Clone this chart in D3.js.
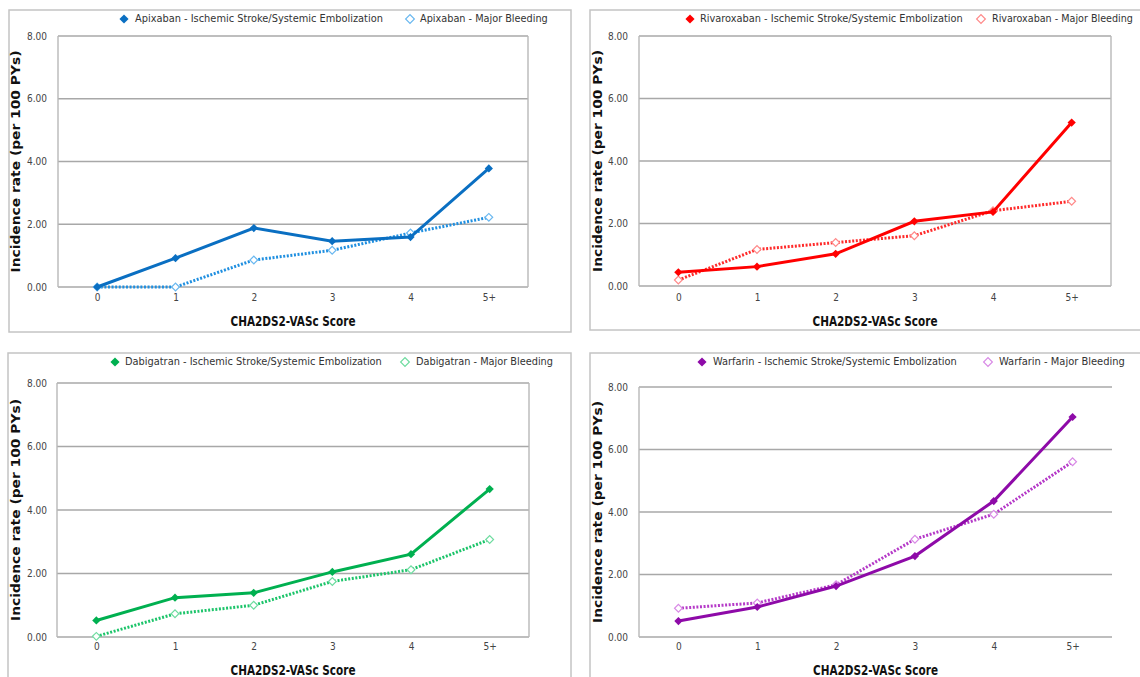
<!DOCTYPE html>
<html><head><meta charset="utf-8">
<script src="https://cdn.jsdelivr.net/npm/d3@7"></script>
<style>
html,body{margin:0;padding:0;background:#fff;}
svg{display:block;}
</style></head>
<body>
<svg id="chart" width="1140" height="677"></svg>
<script>
// ---- data ----
const scores = ["0", "1", "2", "3", "4", "5+"];
const yTicks = [0, 2, 4, 6, 8];
const drugs = ["Apixaban", "Rivaroxaban", "Dabigatran", "Warfarin"];
const apixabanStroke = [0.00, 0.92, 1.88, 1.46, 1.59, 3.78];
const apixabanBleed = [0.00, 0.00, 0.86, 1.17, 1.72, 2.22];
const rivaroxabanStroke = [0.44, 0.62, 1.03, 2.07, 2.37, 5.23];
const rivaroxabanBleed = [0.19, 1.17, 1.39, 1.61, 2.41, 2.71];
const dabigatranStroke = [0.52, 1.24, 1.39, 2.05, 2.61, 4.66];
const dabigatranBleed = [0.02, 0.73, 1.00, 1.75, 2.12, 3.07];
const warfarinStroke = [0.51, 0.96, 1.63, 2.59, 4.35, 7.04];
const warfarinBleed = [0.92, 1.09, 1.67, 3.13, 3.93, 5.61];
const strokeLabel = "Ischemic Stroke/Systemic Embolization";
const bleedLabel = "Major Bleeding";
const yTitle = "Incidence rate (per 100 PYs)";
const xTitle = "CHA2DS2-VASc Score";

// ---- layout/style (not data) ----
const panels = [
  {drug:"Apixaban", s:apixabanStroke, b:apixabanBleed, c:"#0a6fc2", cb:"#1f8fe0", cm:"#6ab8f0",
   box:[9,10,562,322], plot:[58,528,36,287], leg:{y:19,m1:124,t1:[135,383],m2:410,t2:[420,548]},
   yt:16, tr:47, xl:299, xt:322, rightBorder:true},
  {drug:"Rivaroxaban", s:rivaroxabanStroke, b:rivaroxabanBleed, c:"#ff0000", cb:"#ff2a2a", cm:"#ff8a8a",
   box:[590,10,570,320], plot:[639,1111,36,286], leg:{y:19,m1:690,t1:[700,963],m2:981,t2:[992,1133]},
   yt:598, tr:628, xl:299, xt:322, rightBorder:true},
  {drug:"Dabigatran", s:dabigatranStroke, b:dabigatranBleed, c:"#00b050", cb:"#1cc46a", cm:"#6fdca0",
   box:[8,353,563,340], plot:[57,529,383,637], leg:{y:362,m1:115,t1:[125,382],m2:405,t2:[416,553]},
   yt:16, tr:47, xl:648, xt:671, rightBorder:true},
  {drug:"Warfarin", s:warfarinStroke, b:warfarinBleed, c:"#8e0aa8", cb:"#b53ac8", cm:"#d98ae6",
   box:[590,353,570,340], plot:[639,1112,387,637], leg:{y:362,m1:702,t1:[713,957],m2:988,t2:[999,1125]},
   yt:598, tr:628, xl:648, xt:671, rightBorder:false}
];

const svg = d3.select("#chart");
const narrow = "'Liberation Sans Narrow','DejaVu Sans Condensed','Arial Narrow',sans-serif";
const boldFont = "'DejaVu Sans','Verdana',sans-serif";
const sq = d3.symbol().type(d3.symbolSquare);
const mk = (x0, y0) => `translate(${x0},${y0}) rotate(45)`;

// fit a text to a target width by scaling its font size
function fitText(sel, base, target) {
  sel.attr("font-size", base);
  const w = sel.node().getComputedTextLength();
  if (w > 0) sel.attr("font-size", base * target / w);
  return sel;
}

panels.forEach(p => {
  const g = svg.append("g");
  const [bx,by,bw,bh] = p.box;
  g.append("rect").attr("x",bx).attr("y",by).attr("width",bw).attr("height",bh)
    .attr("fill","#fff").attr("stroke","#c4c4c4").attr("stroke-width",1.5);

  const [l,r,t,b] = p.plot;
  const x = d3.scalePoint().domain(scores).range([l,r]).padding(0.5);
  const y = d3.scaleLinear().domain([0,8]).range([b,t]);

  // gridlines
  g.append("g").selectAll("line").data(yTicks).join("line")
    .attr("x1",l).attr("x2",r).attr("y1",d=>y(d)).attr("y2",d=>y(d))
    .attr("stroke","#a8a8a8").attr("stroke-width",1.6);
  g.append("line").attr("x1",l).attr("x2",l).attr("y1",t).attr("y2",b)
    .attr("stroke","#b8b8b8").attr("stroke-width",1.4);
  if (p.rightBorder) g.append("line").attr("x1",r).attr("x2",r).attr("y1",t).attr("y2",b)
    .attr("stroke","#b8b8b8").attr("stroke-width",1.4);

  // y axis labels
  const yAxis = d3.axisLeft(y).tickValues(yTicks).tickFormat(d3.format(".2f")).tickSize(0).tickPadding(0);
  const ya = g.append("g").attr("transform",`translate(${p.tr},0)`).call(yAxis);
  ya.select(".domain").remove();
  ya.selectAll("text").attr("font-family",narrow).attr("font-size",10).attr("fill","#444");

  // x axis labels
  const xAxis = d3.axisBottom(x).tickSize(0).tickPadding(0);
  const xa = g.append("g").attr("transform",`translate(0,${p.xl-5})`).call(xAxis);
  xa.select(".domain").remove();
  xa.selectAll("text").attr("font-family",narrow).attr("font-size",10).attr("fill","#444");

  // titles
  g.append("text").attr("transform",`translate(${p.yt},${(t+b)/2}) rotate(-90)`)
    .attr("text-anchor","middle").attr("dominant-baseline","middle")
    .attr("font-family",boldFont).attr("font-weight","bold").attr("font-size",13)
    .attr("textLength",222).attr("lengthAdjust","spacingAndGlyphs").attr("fill","#111")
    .text(yTitle);
  g.append("text").attr("x",(l+r)/2).attr("y",p.xt)
    .attr("text-anchor","middle").attr("dominant-baseline","middle")
    .attr("font-family",boldFont).attr("font-weight","bold").attr("font-size",14)
    .attr("textLength",125).attr("lengthAdjust","spacingAndGlyphs").attr("fill","#111")
    .text(xTitle);

  const line = d3.line().x((d,i)=>x(scores[i])).y(d=>y(d));
  // bleeding (dotted)
  g.append("path").datum(p.b).attr("d",line).attr("fill","none")
    .attr("stroke",p.cb).attr("stroke-width",3).attr("stroke-dasharray","2,1.6");
  g.append("g").selectAll("path").data(p.b).join("path")
    .attr("transform",(d,i)=>mk(x(scores[i]),y(d)))
    .attr("d",sq.size(30)).attr("fill","#fff").attr("stroke",p.cm).attr("stroke-width",1.2);
  // stroke (solid)
  g.append("path").datum(p.s).attr("d",line).attr("fill","none")
    .attr("stroke",p.c).attr("stroke-width",3);
  g.append("g").selectAll("path").data(p.s).join("path")
    .attr("transform",(d,i)=>mk(x(scores[i]),y(d)))
    .attr("d",sq.size(34)).attr("fill",p.c);

  // legend
  const lg = p.leg;
  g.append("path").attr("transform",mk(lg.m1,lg.y)).attr("d",sq.size(42)).attr("fill",p.c);
  const lt1 = g.append("text").attr("x",lg.t1[0]).attr("y",lg.y).attr("dominant-baseline","middle")
    .attr("font-family",narrow).attr("fill","#333")
    .text(`${p.drug} - ${strokeLabel}`);
  fitText(lt1, 12, lg.t1[1]-lg.t1[0]);
  g.append("path").attr("transform",mk(lg.m2,lg.y)).attr("d",sq.size(38))
    .attr("fill","#fff").attr("stroke",p.cm).attr("stroke-width",1.2);
  const lt2 = g.append("text").attr("x",lg.t2[0]).attr("y",lg.y).attr("dominant-baseline","middle")
    .attr("font-family",narrow).attr("fill","#333")
    .text(`${p.drug} - ${bleedLabel}`);
  fitText(lt2, 12, lg.t2[1]-lg.t2[0]);
});
</script>
</body></html>
